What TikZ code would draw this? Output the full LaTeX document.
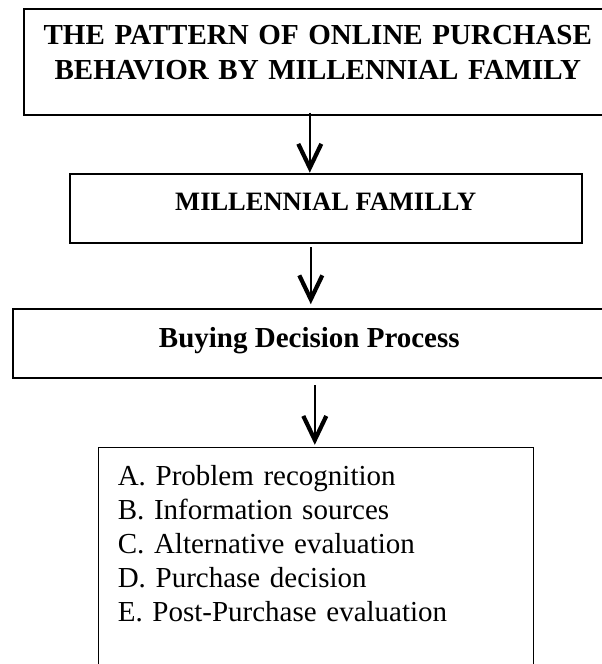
\documentclass[tikz,border=0pt]{standalone}
\usepackage{fontspec}
\setmainfont{Liberation Serif}
\usetikzlibrary{arrows.meta,positioning}

\begin{document}
\begin{tikzpicture}[x=1pt,y=1pt,
    box/.style={draw,line width=2pt,outer sep=0pt,inner xsep=0pt,anchor=north},
    flow/.style={line width=2pt,-{Straight Barb[length=24pt,width=23pt,line width=4.2pt]}}]
    \path[use as bounding box,clip] (0,0) rectangle (602,-664);
    \node[box,anchor=north west,text width=588pt,align=center,inner ysep=17pt,text depth=53.5pt,
          font=\bfseries\fontsize{29pt}{34.5pt}\selectfont] (title) at (23.8,-8.5)
          {THE PATTERN OF ONLINE PURCHASE\\BEHAVIOR BY MILLENNIAL FAMILY};
    \node[box,minimum width=512.5pt,inner ysep=19pt,text depth=14pt,
          font=\bfseries\fontsize{26.5pt}{31pt}\selectfont] (family)
          [below=58.5pt of title,xshift=8pt] {MILLENNIAL FAMILLY};
    \node[box,minimum width=592pt,inner ysep=18.5pt,text depth=11.5pt,
          font=\bfseries\fontsize{29pt}{34pt}\selectfont] (process)
          [below=66pt of family,xshift=-16.5pt] {Buying Decision Process};
    % list box, its bottom runs off the page
    \node[box,line width=1.3pt,text width=397pt,inner xsep=19pt,inner ysep=17.2pt,text depth=200pt,
          align=left,font=\fontsize{29pt}{34pt}\selectfont] (steps)
          [below=70pt of process,xshift=7pt]
          {A. Problem recognition\\B. Information sources\\C. Alternative evaluation\\
           D. Purchase decision\\E. Post-Purchase evaluation};
    % arrows
    \draw[flow,shorten <=-2.5pt,shorten >=1pt] ([xshift=-8pt]title.south) -- ([xshift=-8pt]title.south |- family.north);
    \draw[flow,shorten <=4pt,shorten >=5pt] ([xshift=-15pt]family.south) -- ([xshift=-15pt]family.south |- process.north);
    \draw[flow,shorten <=7.5pt,shorten >=3pt] ([xshift=5.5pt]process.south) -- ([xshift=5.5pt]process.south |- steps.north);
\end{tikzpicture}
\end{document}
